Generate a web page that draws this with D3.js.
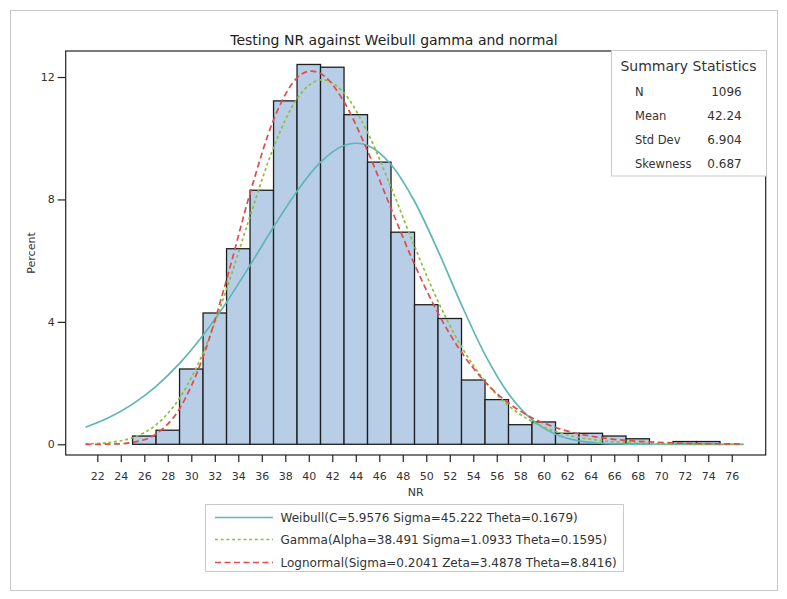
<!DOCTYPE html>
<html>
<head>
<meta charset="utf-8">
<script src="https://cdn.jsdelivr.net/npm/d3@7"></script>
<style>
  body { margin: 0; background: #fff; }
  svg { display: block; }
  text { font-family: "DejaVu Sans", Verdana, sans-serif; fill: #333; }
</style>
</head>
<body>
<svg id="chart" width="787" height="599"></svg>
<script>
// ---------------- data ----------------
const titleText = "Testing NR against Weibull gamma and normal";
const xLabel = "NR";
const yLabel = "Percent";

// histogram bins (lower edge) and their percentages
const binStarts = [25, 27, 29, 31, 33, 35, 37, 39, 41, 43, 45, 47, 49, 51, 53, 55, 57, 59, 61, 63, 65, 67, 69, 71, 73];
const binWidth = 2;
const binPercents = [0.27, 0.46, 2.46, 4.29, 6.39, 8.30, 11.22, 12.41, 12.32, 10.77, 9.22, 6.93, 4.56, 4.11, 2.10, 1.46, 0.64, 0.73, 0.36, 0.36, 0.27, 0.18, 0, 0.09, 0.09];

// fitted curves, read at these NR values
const curveX = [21, 23, 25, 27, 29, 31, 33, 35, 37, 39, 41, 43, 45, 47, 49, 51, 53, 55, 57, 59, 61, 63, 65, 67, 69, 71, 73, 75, 77];
const weibullPct = [0.559, 0.875, 1.312, 1.894, 2.642, 3.563, 4.644, 5.848, 7.097, 8.270, 9.216, 9.762, 9.765, 9.144, 7.941, 6.322, 4.557, 2.930, 1.652, 0.804, 0.329, 0.111, 0.030, 0.007, 0.001, 0, 0, 0, 0];
const gammaPct = [0.012, 0.058, 0.216, 0.634, 1.509, 2.987, 5.065, 7.451, 9.695, 11.29, 11.905, 11.478, 10.19, 8.399, 6.467, 4.672, 3.187, 2.059, 1.265, 0.743, 0.418, 0.225, 0.117, 0.059, 0.029, 0.013, 0.006, 0.003, 0.001];
const lognormalPct = [0.000, 0.006, 0.062, 0.336, 1.163, 2.853, 5.373, 8.202, 10.597, 11.972, 12.114, 11.191, 9.587, 7.710, 5.878, 4.285, 3.006, 2.041, 1.348, 0.870, 0.550, 0.341, 0.209, 0.126, 0.076, 0.045, 0.026, 0.015, 0.009];

const xTickValues = [22, 24, 26, 28, 30, 32, 34, 36, 38, 40, 42, 44, 46, 48, 50, 52, 54, 56, 58, 60, 62, 64, 66, 68, 70, 72, 74, 76];
const yTickValues = [0, 4, 8, 12];

const legendLabels = [
  "Weibull(C=5.9576 Sigma=45.222 Theta=0.1679)",
  "Gamma(Alpha=38.491 Sigma=1.0933 Theta=0.1595)",
  "Lognormal(Sigma=0.2041 Zeta=3.4878 Theta=8.8416)"
];

const statsTitle = "Summary Statistics";
const statLabels = ["N", "Mean", "Std Dev", "Skewness"];
const statValues = ["1096", "42.24", "6.904", "0.687"];

// ---------------- layout / style ----------------
const svg = d3.select("#chart");
const plot = { left: 65.7, right: 765.7, top: 51, bottom: 455 };
const colors = { bar: "#b8cee7", barStroke: "#1e1e1e", weibull: "#5fb6b6", gamma: "#8fbd3c", lognormal: "#e04b4b" };

const x = d3.scaleLinear().domain([19.31, 78.89]).range([plot.left, plot.right]);
const y = d3.scaleLinear().domain([-0.35, 12.85]).range([plot.bottom, plot.top]);

// outer frame
svg.append("rect")
  .attr("x", 10.5).attr("y", 10.5).attr("width", 767).attr("height", 580)
  .attr("fill", "#fff").attr("stroke", "#c9c9c9").attr("stroke-width", 1);

// title
svg.append("text")
  .attr("x", 394).attr("y", 44.5)
  .attr("text-anchor", "middle")
  .style("font-size", "14px")
  .style("fill", "#222")
  .text(titleText);

// bars
svg.append("g").selectAll("rect")
  .data(binStarts.map((s, i) => ({ s, p: binPercents[i] })).filter(d => d.p > 0))
  .join("rect")
  .attr("x", d => x(d.s))
  .attr("width", d => x(d.s + binWidth) - x(d.s))
  .attr("y", d => y(d.p))
  .attr("height", d => y(0) - y(d.p))
  .attr("fill", colors.bar)
  .attr("stroke", colors.barStroke)
  .attr("stroke-width", 1.3);

// curves
const line = d3.line().curve(d3.curveCatmullRom.alpha(0));
const series = [
  { vals: weibullPct, color: colors.weibull, dash: null, width: 1.7 },
  { vals: gammaPct, color: colors.gamma, dash: "3,2.7", width: 1.7 },
  { vals: lognormalPct, color: colors.lognormal, dash: "6,3.5", width: 1.7 }
];
series.forEach(s => {
  svg.append("path")
    .attr("d", line(curveX.map((v, i) => [x(v), y(s.vals[i])])))
    .attr("fill", "none")
    .attr("stroke", s.color)
    .attr("stroke-width", s.width)
    .attr("stroke-dasharray", s.dash);
});

// plot frame
svg.append("rect")
  .attr("x", plot.left).attr("y", plot.top)
  .attr("width", plot.right - plot.left).attr("height", plot.bottom - plot.top)
  .attr("fill", "none").attr("stroke", "#222").attr("stroke-width", 1.2);

// x axis
const xAxis = svg.append("g")
  .attr("transform", `translate(0,${plot.bottom})`)
  .call(d3.axisBottom(x).tickValues(xTickValues).tickSize(7).tickSizeOuter(0).tickFormat(d3.format("d")));
xAxis.select(".domain").remove();
xAxis.selectAll(".tick line").attr("stroke", "#222").attr("stroke-width", 1.2);
xAxis.selectAll(".tick text")
  .attr("y", 17).attr("dy", "0.71em")
  .style("font-size", "11px").style("fill", "#333")
  .style("font-family", '"DejaVu Sans", Verdana, sans-serif');

// y axis
const yAxis = svg.append("g")
  .attr("transform", `translate(${plot.left},0)`)
  .call(d3.axisLeft(y).tickValues(yTickValues).tickSize(8).tickPadding(3).tickSizeOuter(0));
yAxis.select(".domain").remove();
yAxis.selectAll(".tick line").attr("stroke", "#222").attr("stroke-width", 1.2);
yAxis.selectAll(".tick text")
  .style("font-size", "11px").style("fill", "#333")
  .style("font-family", '"DejaVu Sans", Verdana, sans-serif');

// axis labels
svg.append("text")
  .attr("x", (plot.left + plot.right) / 2).attr("y", 496)
  .attr("text-anchor", "middle").style("font-size", "11px")
  .text(xLabel);
svg.append("text")
  .attr("transform", `translate(35,${(plot.top + plot.bottom) / 2}) rotate(-90)`)
  .attr("text-anchor", "middle").style("font-size", "11px")
  .text(yLabel);

// legend
const legend = svg.append("g");
legend.append("rect")
  .attr("x", 205.5).attr("y", 504.5).attr("width", 418).attr("height", 67)
  .attr("fill", "#fff").attr("stroke", "#c9c9c9");
const legendRowY = [517.5, 539.5, 562.5];
series.forEach((s, i) => {
  legend.append("line")
    .attr("x1", 215).attr("x2", 273)
    .attr("y1", legendRowY[i]).attr("y2", legendRowY[i])
    .attr("stroke", s.color).attr("stroke-width", s.width)
    .attr("stroke-dasharray", s.dash);
  legend.append("text")
    .attr("x", 280.5).attr("y", legendRowY[i] + 4.3)
    .style("font-size", "12px")
    .text(legendLabels[i]);
});

// summary statistics inset
const inset = svg.append("g");
inset.append("rect")
  .attr("x", 611.5).attr("y", 50.5).attr("width", 155).attr("height", 125.5)
  .attr("fill", "#fff").attr("stroke", "#c9c9c9");
inset.append("text")
  .attr("x", 688.5).attr("y", 71)
  .attr("text-anchor", "middle").style("font-size", "14px")
  .text(statsTitle);
const statRowY = [96, 120.3, 144.3, 168];
statLabels.forEach((lab, i) => {
  inset.append("text").attr("x", 635).attr("y", statRowY[i])
    .style("font-size", "11.5px").text(lab);
  inset.append("text").attr("x", 741.7).attr("y", statRowY[i])
    .attr("text-anchor", "end").style("font-size", "12px").text(statValues[i]);
});
</script>
</body>
</html>
